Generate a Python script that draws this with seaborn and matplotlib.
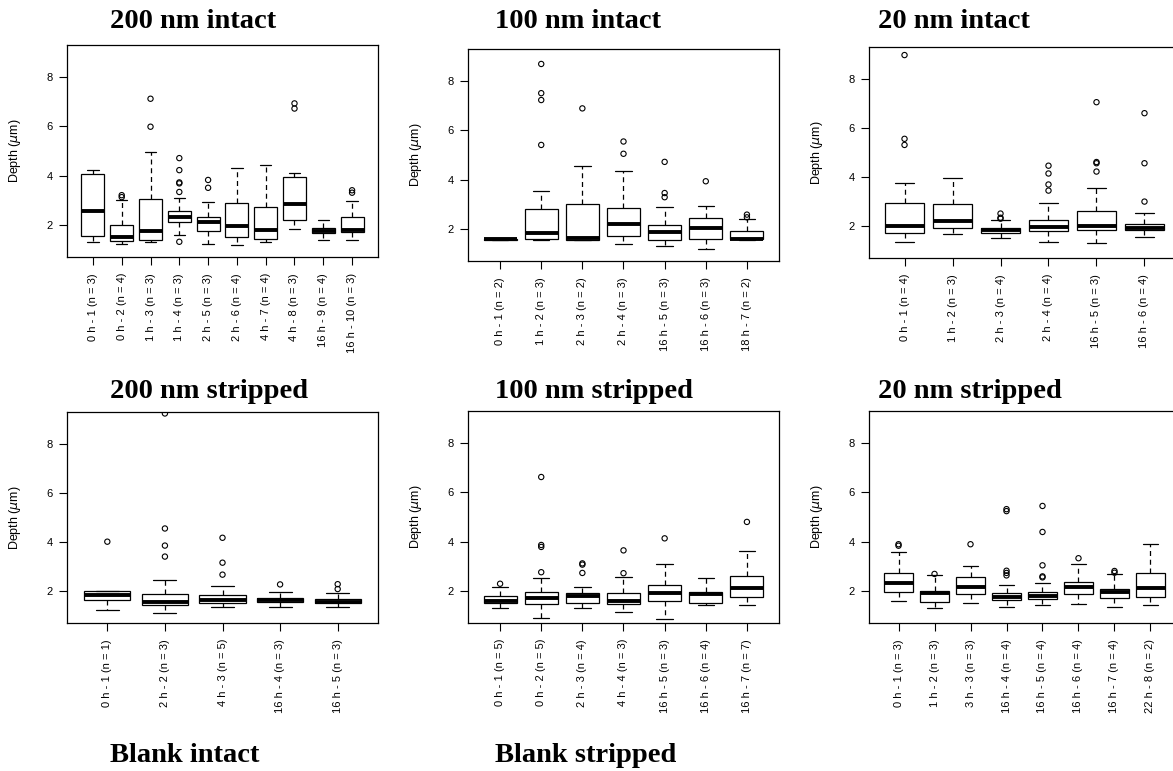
import numpy as np
import pandas as pd
import matplotlib.pyplot as plt
import seaborn as sns

# ---- 200 nm intact
i200_lab = ["0 h - 1 (n = 3)", "0 h - 2 (n = 4)", "1 h - 3 (n = 3)", "1 h - 4 (n = 3)", "2 h - 5 (n = 3)",
            "2 h - 6 (n = 4)", "4 h - 7 (n = 4)", "4 h - 8 (n = 3)", "16 h - 9 (n = 4)", "16 h - 10 (n = 3)"]
i200_lo = [1.31, 1.22, 1.29, 1.58, 1.22, 1.16, 1.31, 1.82, 1.39, 1.39]
i200_q1 = [1.55, 1.35, 1.39, 2.12, 1.73, 1.50, 1.43, 2.20, 1.65, 1.69]
i200_med = [2.57, 1.50, 1.73, 2.29, 2.10, 1.95, 1.76, 2.83, 1.74, 1.78]
i200_q3 = [4.05, 1.99, 3.05, 2.56, 2.31, 2.90, 2.72, 3.92, 1.85, 2.31]
i200_hi = [4.24, 2.99, 4.95, 3.09, 2.94, 4.30, 4.42, 4.10, 2.19, 2.97]
i200_out = [[], [3.12, 3.20], [7.13, 5.99], [4.71, 4.22, 3.72, 3.68, 3.33, 1.30], [3.82, 3.50],
            [], [], [6.94, 6.73], [], [3.40, 3.30]]

# ---- 100 nm intact
i100_lab = ["0 h - 1 (n = 2)", "1 h - 2 (n = 3)", "2 h - 3 (n = 2)", "2 h - 4 (n = 3)", "16 h - 5 (n = 3)",
            "16 h - 6 (n = 3)", "18 h - 7 (n = 2)"]
i100_lo = [1.53, 1.52, 1.54, 1.39, 1.29, 1.16, 1.54]
i100_q1 = [1.54, 1.56, 1.55, 1.69, 1.52, 1.56, 1.56]
i100_med = [1.56, 1.81, 1.62, 2.18, 1.85, 2.01, 1.59]
i100_q3 = [1.59, 2.79, 2.99, 2.82, 2.16, 2.45, 1.89]
i100_hi = [1.61, 3.55, 4.57, 4.34, 2.90, 2.94, 2.38]
i100_out = [[], [8.71, 7.52, 7.24, 5.41], [6.90], [5.55, 5.05], [4.72, 3.45, 3.28], [3.93], [2.57, 2.46]]

# ---- 20 nm intact
i20_lab = ["0 h - 1 (n = 4)", "1 h - 2 (n = 3)", "2 h - 3 (n = 4)", "2 h - 4 (n = 4)", "16 h - 5 (n = 3)",
           "16 h - 6 (n = 4)"]
i20_lo = [1.35, 1.67, 1.48, 1.35, 1.31, 1.55]
i20_q1 = [1.69, 1.92, 1.69, 1.77, 1.84, 1.82]
i20_med = [2.01, 2.19, 1.84, 1.93, 2.01, 1.92]
i20_q3 = [2.95, 2.90, 1.92, 2.24, 2.59, 2.08]
i20_hi = [3.77, 3.97, 2.22, 2.95, 3.56, 2.54]
i20_out = [[8.99, 5.56, 5.31], [], [2.50, 2.33, 2.29], [4.46, 4.14, 3.69, 3.44],
           [7.06, 4.61, 4.56, 4.22], [6.61, 4.56, 2.99]]

# ---- 200 nm stripped
s200_lab = ["0 h - 1 (n = 1)", "2 h - 2 (n = 3)", "4 h - 3 (n = 5)", "16 h - 4 (n = 3)", "16 h - 5 (n = 3)"]
s200_lo = [1.23, 1.10, 1.32, 1.32, 1.32]
s200_q1 = [1.63, 1.40, 1.51, 1.53, 1.48]
s200_med = [1.81, 1.55, 1.63, 1.63, 1.55]
s200_q3 = [2.01, 1.88, 1.81, 1.70, 1.66]
s200_hi = [2.01, 2.46, 2.18, 1.96, 1.92]
s200_out = [[4.01], [9.26, 4.55, 3.85, 3.40], [4.17, 3.15, 2.66], [2.26], [2.27, 2.07]]

# ---- 100 nm stripped
s100_lab = ["0 h - 1 (n = 5)", "0 h - 2 (n = 5)", "2 h - 3 (n = 4)", "4 h - 4 (n = 3)", "16 h - 5 (n = 3)",
            "16 h - 6 (n = 4)", "16 h - 7 (n = 7)"]
s100_lo = [1.28, 0.90, 1.31, 1.13, 0.83, 1.42, 1.40]
s100_q1 = [1.48, 1.44, 1.51, 1.44, 1.59, 1.51, 1.73]
s100_med = [1.59, 1.69, 1.77, 1.59, 1.89, 1.85, 2.09]
s100_q3 = [1.77, 1.96, 1.92, 1.92, 2.24, 1.96, 2.61]
s100_hi = [2.16, 2.50, 2.16, 2.57, 3.07, 2.50, 3.60]
s100_out = [[2.28], [6.63, 3.86, 3.78, 2.75], [3.11, 3.06, 2.72], [3.64, 2.71], [4.13], [], [4.80]]

# ---- 20 nm stripped
s20_lab = ["0 h - 1 (n = 3)", "1 h - 2 (n = 3)", "3 h - 3 (n = 3)", "16 h - 4 (n = 4)", "16 h - 5 (n = 4)",
           "16 h - 6 (n = 4)", "16 h - 7 (n = 4)", "22 h - 8 (n = 2)"]
s20_lo = [1.59, 1.28, 1.51, 1.32, 1.42, 1.44, 1.32, 1.40]
s20_q1 = [1.96, 1.55, 1.86, 1.61, 1.65, 1.86, 1.69, 1.73]
s20_med = [2.30, 1.89, 2.14, 1.73, 1.80, 2.14, 1.95, 2.09]
s20_q3 = [2.71, 2.00, 2.54, 1.92, 1.96, 2.37, 2.08, 2.71]
s20_hi = [3.56, 2.62, 3.02, 2.24, 2.33, 3.10, 2.66, 3.89]
s20_out = [[3.89, 3.83], [2.68], [3.89], [5.32, 5.24, 2.81, 2.72, 2.62],
           [5.45, 4.39, 3.03, 2.58, 2.54], [3.32], [2.80, 2.73], []]

titles = ["200 nm intact", "100 nm intact", "20 nm intact",
          "200 nm stripped", "100 nm stripped", "20 nm stripped",
          "Blank intact", "Blank stripped"]

sns.set_style("white")
plt.rcParams['font.family'] = ['Liberation Sans', 'DejaVu Sans']
plt.rcParams.update({"text.color": "black", "axes.labelcolor": "black",
                     "xtick.color": "black", "ytick.color": "black"})

W, H = 1173, 771
fig = plt.figure(figsize=(W / 100, H / 100), dpi=100)

panels = [
    (i200_lab, i200_lo, i200_q1, i200_med, i200_q3, i200_hi, i200_out, (67, 45, 378, 257)),
    (i100_lab, i100_lo, i100_q1, i100_med, i100_q3, i100_hi, i100_out, (468, 49, 779, 261)),
    (i20_lab, i20_lo, i20_q1, i20_med, i20_q3, i20_hi, i20_out, (869, 47, 1180, 258)),
    (s200_lab, s200_lo, s200_q1, s200_med, s200_q3, s200_hi, s200_out, (67, 412, 378, 623)),
    (s100_lab, s100_lo, s100_q1, s100_med, s100_q3, s100_hi, s100_out, (468, 411, 779, 623)),
    (s20_lab, s20_lo, s20_q1, s20_med, s20_q3, s20_hi, s20_out, (869, 411, 1180, 623)),
]

for lab, lo, q1, med, q3, hi, out, (x0, y0, x1, y1) in panels:
    ax = fig.add_axes([x0 / W, 1 - y1 / H, (x1 - x0) / W, (y1 - y0) / H])
    # five-number summary per group -> box with whiskers at min/max
    box_df = pd.DataFrame({
        "group": [g for g in lab for _ in range(5)],
        "depth": [v for row in zip(lo, q1, med, q3, hi) for v in row],
    })
    out_df = pd.DataFrame({
        "group": [g for g, o in zip(lab, out) for _ in o],
        "depth": [v for o in out for v in o],
    })
    sns.boxplot(data=box_df, x="group", y="depth", order=lab, whis=(0, 100), width=0.8,
                color="white", linecolor="black", linewidth=0.9, showfliers=False,
                medianprops={"linewidth": 2.8},
                whiskerprops={"linestyle": (0, (4, 3))}, ax=ax)
    sns.stripplot(data=out_df, x="group", y="depth", order=lab, jitter=False, size=3.8,
                  color="black", facecolor="none", edgecolor="black", linewidth=0.8, ax=ax)
    n = len(lab)
    ax.set_xlim(-0.5 - 0.04 * n, n - 0.5 + 0.04 * n)
    ax.set_ylim(0.68, 9.32)
    ax.set_yticks([2, 4, 6, 8])
    ax.set_xlabel("")
    ax.set_ylabel(r"Depth ($\mu$m)", fontsize=9)
    ax.yaxis.set_label_coords(-0.14, 0.5)
    ax.tick_params(axis="both", direction="out", length=5.5, width=0.8, labelsize=8,
                   color="black", labelcolor="black", left=True, bottom=True)
    ax.tick_params(axis="y", pad=5)
    ax.tick_params(axis="x", pad=6, labelrotation=90)
    for s in ax.spines.values():
        s.set_color("black")
        s.set_linewidth(0.9)

# panel titles (left aligned, as in the layout)
title_pos = [(110, 22), (495, 22), (878, 22), (110, 392), (495, 392), (878, 392), (110, 755), (495, 755)]
for t, (tx, ty) in zip(titles, title_pos):
    fig.text(tx / W, 1 - ty / H, t, ha="left", va="center", fontsize=20.5, fontweight="bold",
             color="black", family=["Liberation Serif", "DejaVu Serif"])

fig.savefig("out.png", dpi=100)
